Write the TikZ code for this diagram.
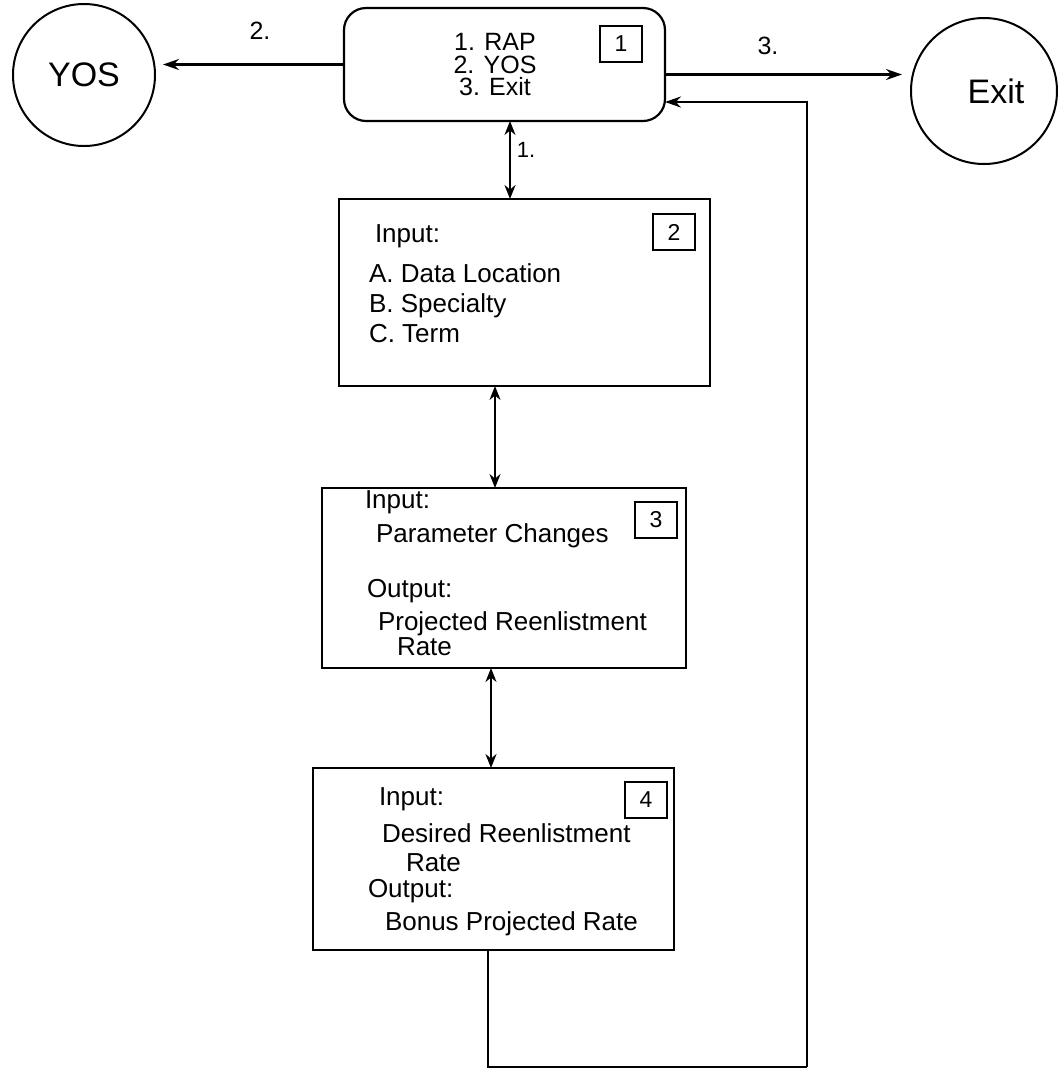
\documentclass[tikz,border=0pt]{standalone}
\usepackage{fontspec}
\setmainfont{Liberation Sans}
\usetikzlibrary{arrows.meta,calc}
\begin{document}
\begin{tikzpicture}[x=0.5pt,y=-0.5pt,
  every node/.style={inner sep=0pt,outer sep=0pt},
  stepbox/.style={draw,line width=1.1pt},
  numbox/.style={draw,line width=1pt,minimum width=21pt,minimum height=18pt,font=\fontsize{11.5}{13}\selectfont},
  txt/.style={anchor=base west,font=\fontsize{13}{15}\selectfont},
  menu/.style={align=center,font=\fontsize{12.5}{12.5}\selectfont},
  lab/.style={font=\fontsize{12.5}{14}\selectfont},
  bigc/.style={draw,circle,line width=1pt,font=\fontsize{17}{20}\selectfont},
  arr/.style={line width=1.2pt,-{Stealth[length=8pt,width=5.5pt]}},
  dbl/.style={line width=0.9pt,{Stealth[length=7pt,width=5.5pt]}-{Stealth[length=7pt,width=5.5pt]}},
  conn/.style={line width=1pt}]
\useasboundingbox (0,0) rectangle (1062,1073);

% menu box
\node[stepbox,rounded corners=11pt,minimum width=160.5pt,minimum height=56.5pt] (box1) at (504.5,64.5) {};
\node[menu,anchor=base] (m1) at (495,50) {1. RAP};
\node[menu,anchor=base] (m2) at (495,73) {2. YOS};
\node[menu,anchor=base] (m3) at (495,95) {3. Exit};
\node[numbox] (n1) at (621,44) {1};

% circles
\node[bigc,minimum size=71pt] (yos) at (84,75) {YOS};
\node[bigc,minimum size=73pt] (exitc) at (984,91) {\hspace{12pt}Exit};

% box 2
\node[stepbox,minimum width=185.5pt,minimum height=93.5pt] (box2) at (524.5,292.5) {};
\node[numbox] (n2) at (674,232) {2};
\node[txt] (t2a) at (375,242) {Input:};
\node[txt] (t2b) at (369,282) {A. Data Location};
\node[txt] (t2c) at (369,312) {B. Specialty};
\node[txt] (t2d) at (369,342) {C. Term};

% box 3
\node[stepbox,minimum width=182pt,minimum height=90pt] (box3) at (504,578) {};
\node[numbox] (n3) at (656,520) {3};
\node[txt] (t3a) at (365,508) {Input:};
\node[txt] (t3b) at (376,542) {Parameter Changes};
\node[txt] (t3c) at (367,597) {Output:};
\node[txt] (t3d) at (378,630) {Projected Reenlistment};
\node[txt] (t3e) at (397,655) {Rate};

% box 4
\node[stepbox,minimum width=180.5pt,minimum height=91pt] (box4) at (493.5,859) {};
\node[numbox] (n4) at (646,800) {4};
\node[txt] (t4a) at (379,805) {Input:};
\node[txt] (t4b) at (382,842) {Desired Reenlistment};
\node[txt] (t4c) at (406,871) {Rate};
\node[txt] (t4d) at (368,897) {Output:};
\node[txt] (t4e) at (385,930) {Bonus Projected Rate};

% labels
\node[lab] (l2) at (260,31) {2.};
\node[lab] (l3) at (768,46) {3.};
\node[lab,font=\fontsize{11}{13}\selectfont] (l1) at (526,150) {1.};

% connectors
\draw[arr,shorten >=4pt] (box1.west) -- (box1.west -| yos.east);
\coordinate (b1e) at ($(box1.east)+(0,10)$);
\draw[arr,shorten >=4.5pt] (b1e) -- (b1e -| exitc.west);

\coordinate (c12) at (510,0);
\coordinate (c23) at (495,0);
\coordinate (c34) at (491,0);
\draw[dbl] (box1.south -| c12) -- (box2.north -| c12);
\draw[dbl] (box2.south -| c23) -- (box3.north -| c23);
\draw[dbl] (box3.south -| c34) -- (box4.north -| c34);

\coordinate (b4o) at ($(box4.south)+(-5.5,0)$);
\coordinate (lc) at (807,1067);
\coordinate (b1r) at ($(box1.east)+(0,37.5)$);
\draw[conn] (b4o) |- (lc);
\draw[arr] (lc) |- (b1r);
\end{tikzpicture}
\end{document}
